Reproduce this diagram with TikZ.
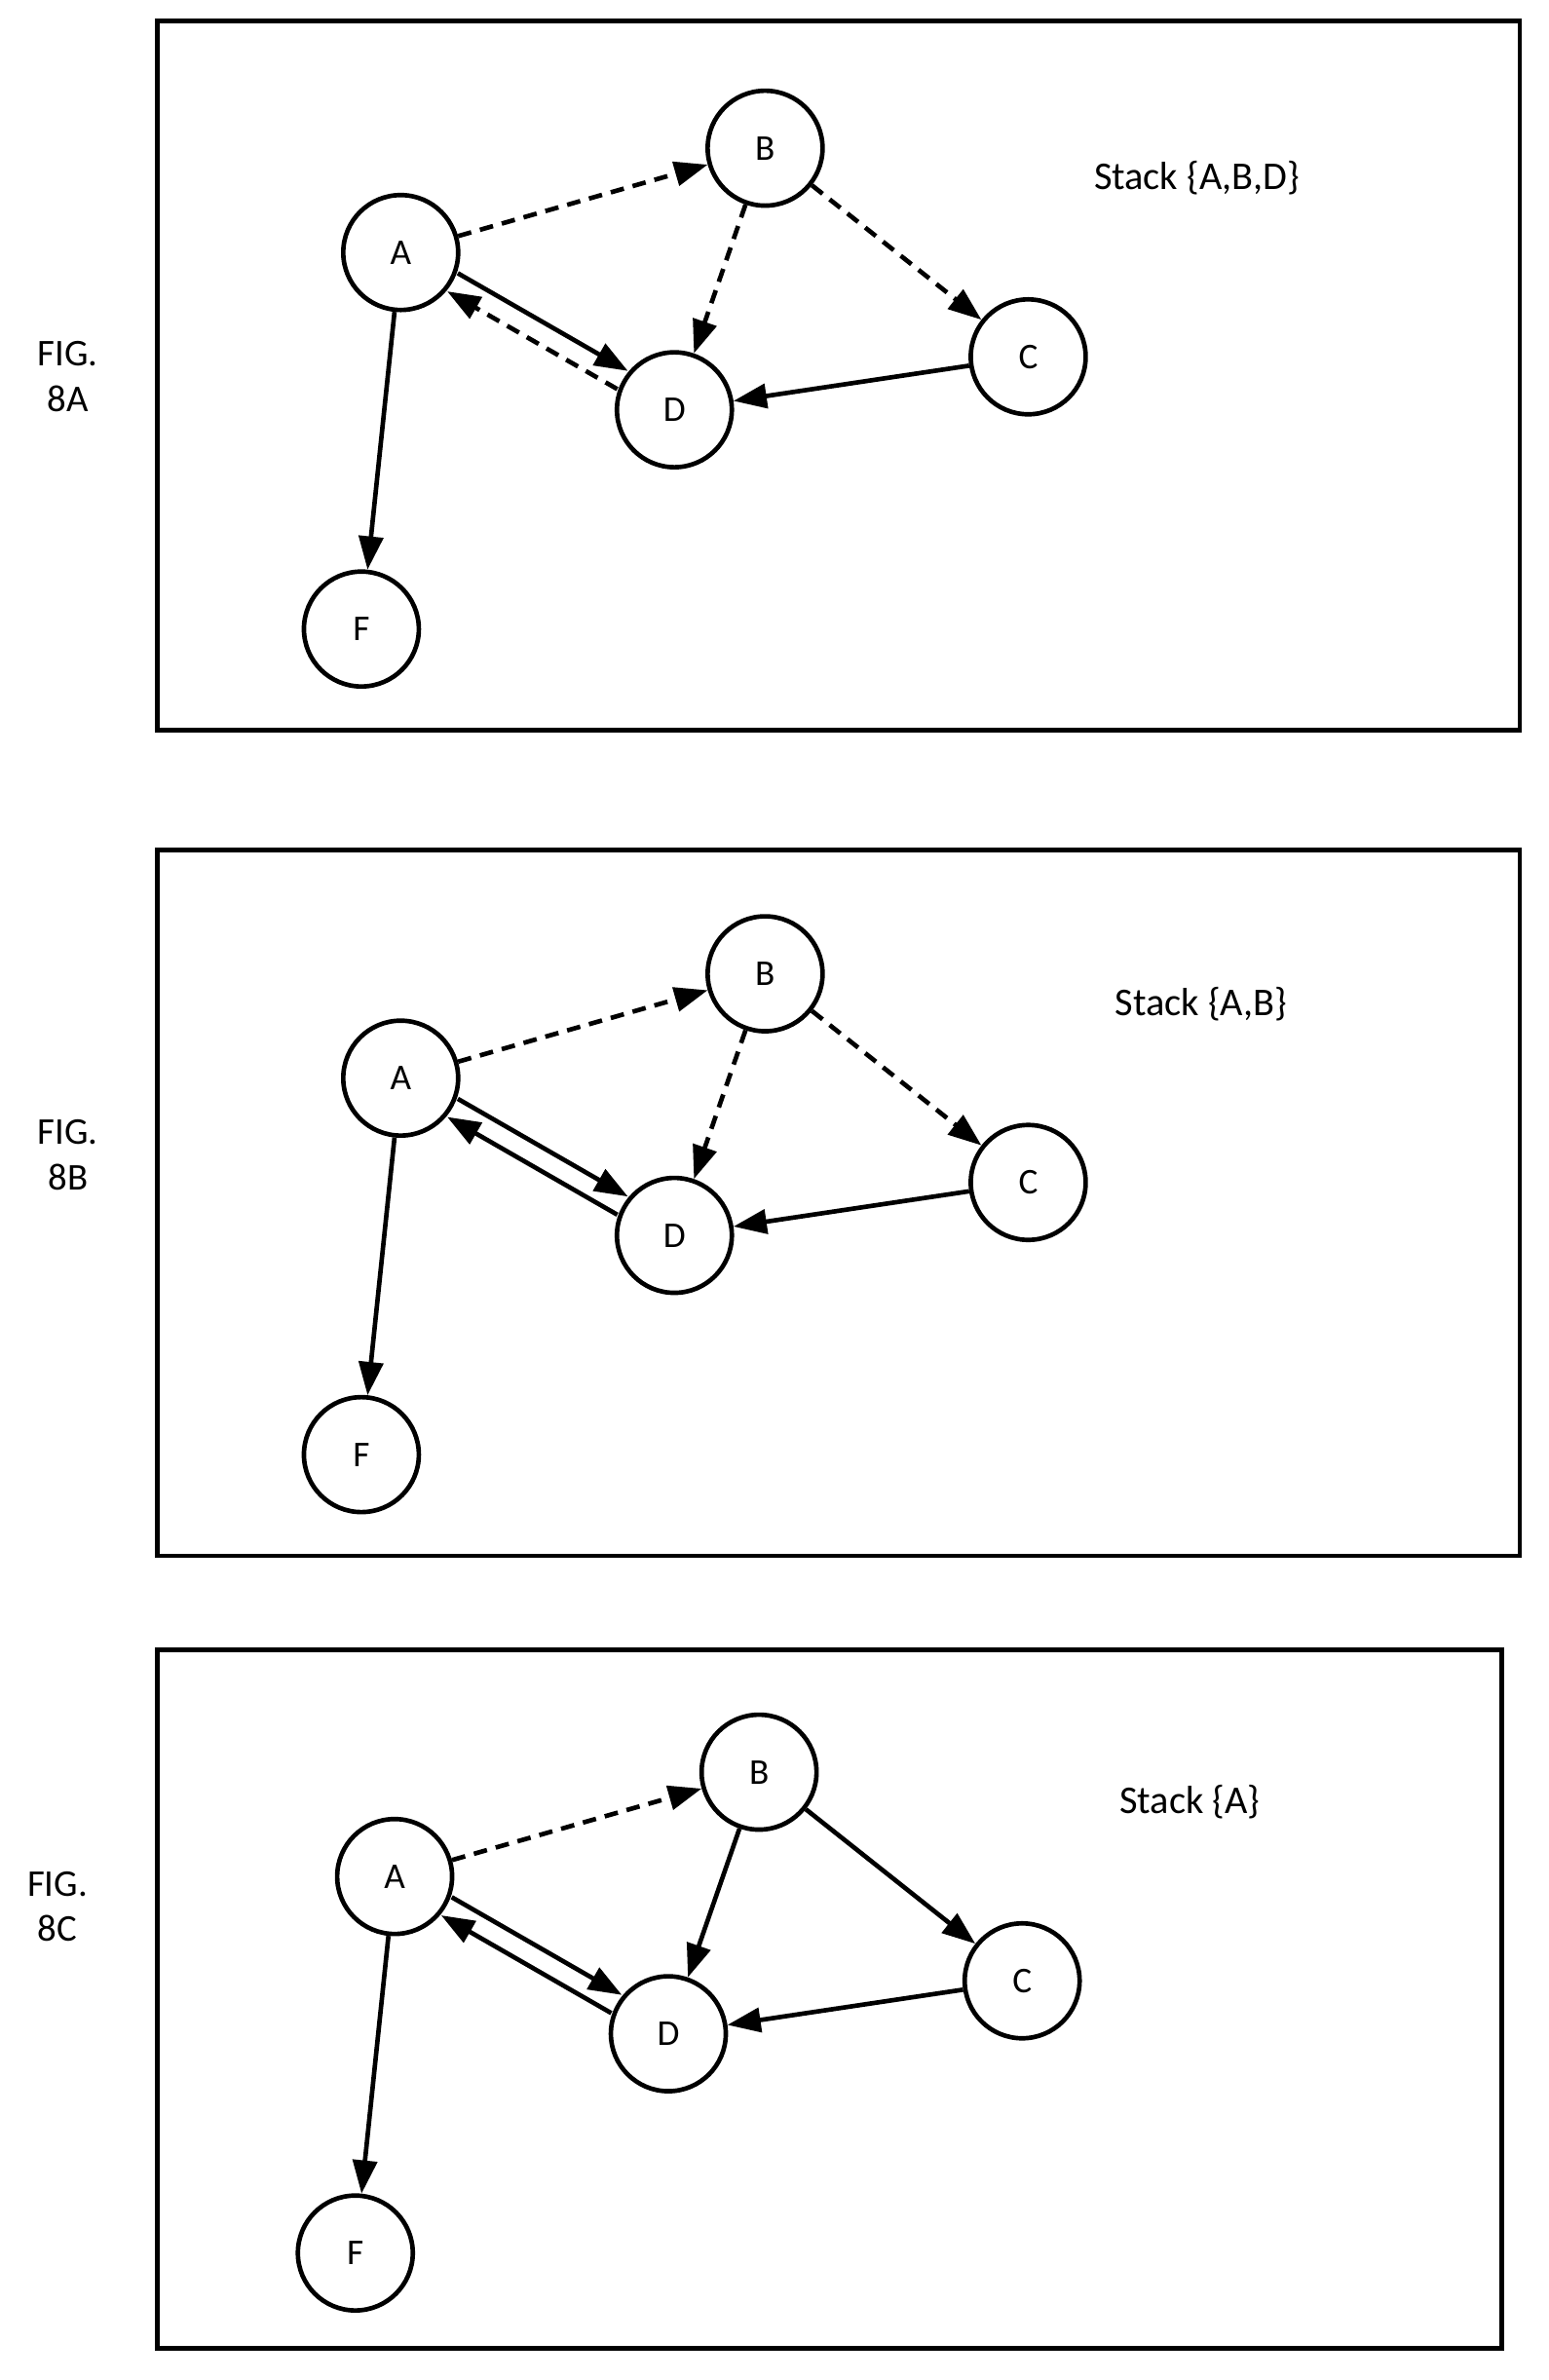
\documentclass[tikz,border=0pt]{standalone}
\usepackage{fontspec}
\setmainfont{Carlito}
\usetikzlibrary{arrows.meta}
\begin{document}
\begin{tikzpicture}[x=1pt,y=-1pt,
 nd/.style={circle,draw,line width=3pt,minimum size=76pt,inner sep=0pt,font=\fontsize{24}{24}\selectfont},
 ed/.style={line width=3pt,-{Triangle[length=22pt,width=16pt]}},
 ds/.style={ed,dash pattern=on 9pt off 6pt},
 bx/.style={draw,line width=3pt},
 lb/.style={font=\fontsize{25}{30}\selectfont,align=center},
 st/.style={font=\fontsize{26}{26}\selectfont}]
\useasboundingbox (0,0) rectangle (1024,1574);
\newcommand{\panel}[8]{%
 \begin{scope}[shift={(#1,#2)}]
 \node[nd] (A#8) at (265,167) {A};
 \node[nd] (B#8) at (506,98) {B};
 \node[nd] (C#8) at (680,236) {C};
 \node[nd] (D#8) at (446,271) {D};
 \node[nd] (F#8) at (239,416) {F};
 \draw[ds] (A#8) -- (B#8);
 \draw[#3] (B#8) -- (D#8);
 \draw[#4] (B#8) -- (C#8);
 \draw[ed] (C#8) -- (D#8);
 \draw[ed] (A#8) -- (F#8);
 \draw[ed,transform canvas={shift={(3.5,-6)}}] (A#8) -- (D#8);
 \draw[#5,transform canvas={shift={(-3.5,6)}}] (D#8) -- (A#8);
 \node[st,anchor=west] (S#8) at (#6,118) {#7};
 \end{scope}}
\draw[bx] (104,14) rectangle (1005,483);
\draw[bx] (104,562) rectangle (1005,1029);
\draw[bx] (104,1091) rectangle (993,1553);
\panel{0}{0}{ds}{ds}{ds}{720}{Stack \{A,B,D\}}{a}
\panel{0}{546}{ds}{ds}{ed}{734}{Stack \{A,B\}}{b}
\panel{-4}{1074}{ed}{ed}{ed}{741}{Stack \{A\}}{c}
\node[lb] (la) at (45,249) {FIG.\\8A};
\node[lb] (lb) at (45,764) {FIG.\\8B};
\node[lb] (lc) at (38,1261) {FIG.\\8C};
\end{tikzpicture}
\end{document}
